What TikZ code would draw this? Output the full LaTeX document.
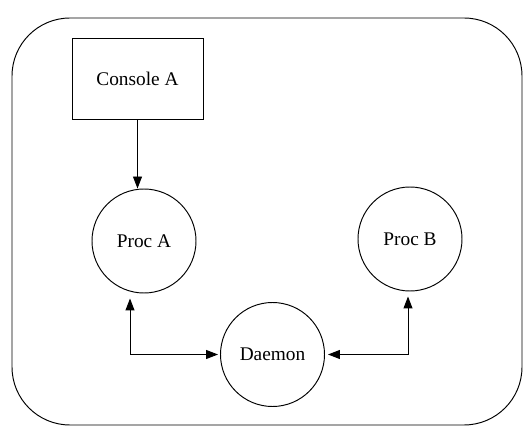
\documentclass[tikz,border=0pt]{standalone}
\usepackage{fontspec}
\setmainfont{Liberation Serif}
\usetikzlibrary{positioning, arrows.meta}

\begin{document}
\begin{tikzpicture}[
        line width=0.55pt,
        font=\fontsize{11}{13}\selectfont,
        console/.style={draw, rectangle, minimum width=2.62cm, minimum height=1.62cm, align=center},
        proc/.style={draw, circle, minimum size=2.08cm, inner sep=0pt, align=center},
        arrow/.style={-{Triangle[length=2.4mm, width=1.8mm]}},
        dblarrow/.style={{Triangle[length=2.4mm, width=1.8mm]}-{Triangle[length=2.4mm, width=1.8mm]}}
    ]
    \useasboundingbox (0,0) rectangle (10.56,8.54);

    % outer frame
    \draw[rounded corners=1.16cm] (0.24,0.04) rectangle (10.44,8.18);

    \node[console] (ConsoleA) at (2.75,6.97) {Console A};

    \node[proc] (ProcA) at (2.88,3.72) {Proc A};
    \node[proc] (ProcB) at (8.2,3.76) {Proc B};
    \node[proc] (Daemon) at (5.45,1.45) {Daemon};

    \draw[arrow] (ConsoleA) -- (ConsoleA |- ProcA.north);
    \draw[dblarrow] ([xshift=-0.28cm, yshift=-0.1cm]ProcA.south) |- ([xshift=-0.04cm]Daemon.west);
    \draw[dblarrow] ([xshift=-0.04cm, yshift=-0.1cm]ProcB.south) |- ([xshift=0.06cm]Daemon.east);

\end{tikzpicture}
\end{document}
